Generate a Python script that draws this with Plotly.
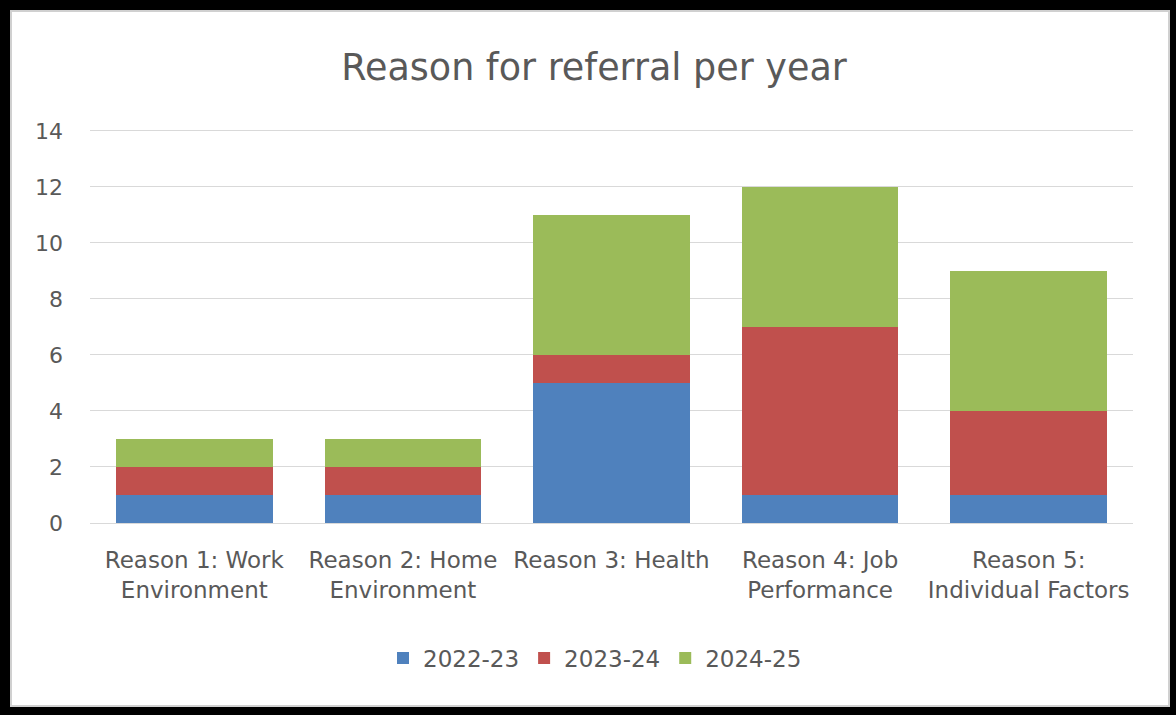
import plotly.graph_objects as go

# Referral reasons and counts per reporting year
categories = [
    "Reason 1: Work<br>Environment",
    "Reason 2: Home<br>Environment",
    "Reason 3: Health",
    "Reason 4: Job<br>Performance",
    "Reason 5:<br>Individual Factors",
]
years = ["2022-23", "2023-24", "2024-25"]
counts_2022_23 = [1, 1, 5, 1, 1]
counts_2023_24 = [1, 1, 1, 6, 3]
counts_2024_25 = [1, 1, 5, 5, 5]
y_ticks = [0, 2, 4, 6, 8, 10, 12, 14]
y_max = 14.1

series = [counts_2022_23, counts_2023_24, counts_2024_25]
colors = ["#4F81BD", "#C0504D", "#9BBB59"]

W, H = 1176, 715
ML, MR, MT, MB = 90, 43, 128, 192
PW, PH = W - ML - MR, H - MT - MB

FONT = "DejaVu Sans"
GREY = "#595959"

fig = go.Figure()
for name, vals, col in zip(years, series, colors):
    fig.add_trace(go.Bar(
        name=name, x=categories, y=vals,
        marker=dict(color=col, line=dict(width=0)),
    ))


def px_x(p):
    return (p - ML) / PW


def px_y(p):
    return (H - p - MB) / PH


# white chart panel inside the black frame
fig.add_shape(
    type="rect", xref="paper", yref="paper", layer="below",
    x0=px_x(11), x1=px_x(1169), y0=px_y(706), y1=px_y(11),
    fillcolor="white", line=dict(color="#d0d0d0", width=2),
)

fig.update_layout(
    width=W, height=H,
    barmode="stack", bargap=0.25,
    paper_bgcolor="black", plot_bgcolor="white",
    margin=dict(l=ML, r=MR, t=MT, b=MB),
    font=dict(family=FONT, color=GREY, size=23),
    title=dict(
        text="Reason for referral per year",
        x=594 / W, xref="container", xanchor="center",
        y=1 - 67 / H, yanchor="middle",
        font=dict(family=FONT, size=36.5, color=GREY),
    ),
    legend=dict(
        orientation="h", x=px_x(595), xanchor="center",
        y=px_y(658), yanchor="middle",
        bgcolor="rgba(0,0,0,0)",
        font=dict(family=FONT, size=23, color=GREY),
        traceorder="normal", itemwidth=30,
    ),
    showlegend=True,
)
fig.update_yaxes(
    range=[0, y_max], tickvals=y_ticks,
    gridcolor="#d9d9d9", gridwidth=1,
    zeroline=True, zerolinecolor="#d9d9d9", zerolinewidth=1,
    showline=False, ticks="", ticklabelstandoff=26,
    tickfont=dict(family=FONT, size=22, color=GREY),
)
fig.update_xaxes(
    showgrid=False, showline=False, ticks="",
    tickfont=dict(family=FONT, size=23, color=GREY),
    ticklabelstandoff=21,
)

fig.write_html("out.html")
